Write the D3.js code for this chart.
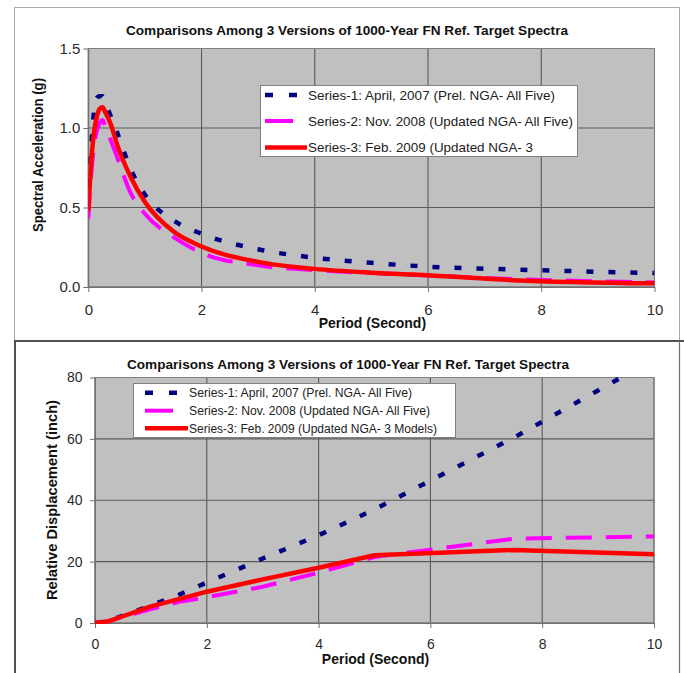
<!DOCTYPE html>
<html><head><meta charset="utf-8">
<script src="https://cdn.jsdelivr.net/npm/d3@7"></script>
<style>html,body{margin:0;padding:0;background:#fff;}svg{display:block;}</style>
</head><body>
<script>
// ---------- DATA ----------
const chartTitle = "Comparisons Among 3 Versions of 1000-Year FN Ref. Target Spectra";
const seriesNames = [
  "Series-1: April, 2007 (Prel. NGA- All Five)",
  "Series-2: Nov. 2008 (Updated NGA- All Five)",
  "Series-3: Feb. 2009 (Updated NGA- 3"
];
const seriesNamesBottom = [
  "Series-1: April, 2007 (Prel. NGA- All Five)",
  "Series-2: Nov. 2008 (Updated NGA- All Five)",
  "Series-3: Feb. 2009 (Updated NGA- 3 Models)"
];
// Top chart: spectral acceleration (g) vs period (s)
const periodsSa = [0, 0.05, 0.1, 0.15, 0.2, 0.25, 0.3, 0.4, 0.5, 0.75, 1, 1.5, 2, 3, 4, 5, 6, 7.5, 10];
const saSeries1 = [0.50, 0.86, 1.10, 1.19, 1.20, 1.20, 1.16, 1.07, 0.98, 0.74, 0.58, 0.42, 0.335, 0.237, 0.184, 0.152, 0.128, 0.11, 0.088];
const saSeries2 = [0.43, 0.70, 0.88, 0.98, 1.03, 1.05, 1.01, 0.92, 0.825, 0.59, 0.46, 0.315, 0.215, 0.136, 0.106, 0.088, 0.072, 0.05, 0.029];
const saSeries3 = [0.48, 0.78, 0.97, 1.07, 1.12, 1.13, 1.10, 1.02, 0.905, 0.69, 0.535, 0.35, 0.255, 0.158, 0.114, 0.09, 0.074, 0.043, 0.023];
// Bottom chart: relative displacement (inch) vs period (s)
const periodsSd = [0, 0.25, 0.5, 0.75, 1, 1.5, 2, 3, 4, 5, 7.5, 10];
const sdSeries1 = [0, 0.7, 2.4, 4.0, 5.7, 9.2, 13.2, 21.0, 28.6, 37.0, 60.5, 86.0];
const sdSeries2 = [0, 0.6, 2.0, 3.2, 4.5, 6.9, 8.4, 11.8, 16.4, 21.5, 27.5, 28.2];
const sdSeries3 = [0, 0.6, 2.2, 3.8, 5.4, 7.8, 10.2, 14.2, 18.0, 22.1, 23.8, 22.4];
const xTicks = [0, 2, 4, 6, 8, 10];
const yTicksSa = [0, 0.5, 1.0, 1.5];
const yTicksSd = [0, 20, 40, 60, 80];
const xLabel = "Period (Second)";
const yLabelSa = "Spectral Acceleration (g)";
const yLabelSd = "Relative Displacement (inch)";
const colors = ["#000080", "#FF00FF", "#FF0000"];

// ---------- DRAW ----------
const W = 684, H = 673;
const svg = d3.select("body").append("svg").attr("width", W).attr("height", H)
  .style("font-family", "'Liberation Sans', Arial, sans-serif");

// panel frames
svg.append("path").attr("d", "M14.5,340 V7.5 H679.5 V340").attr("fill", "none").attr("stroke", "#a8a8a8").attr("stroke-width", 1);
svg.append("path").attr("d", "M15,673 V341 H684").attr("fill", "none").attr("stroke", "#505050").attr("stroke-width", 2);
svg.append("line").attr("x1", 679.5).attr("x2", 679.5).attr("y1", 341).attr("y2", 673).attr("stroke", "#707070").attr("stroke-width", 1.2);

const styles = [
  {w: 4.5, dash: "7,15"},
  {w: 4, dash: "26,14"},
  {w: 4.5, dash: null}
];

function drawChart(cfg) {
  const g = svg.append("g");
  const x = d3.scaleLinear().domain([0, 10]).range([cfg.x0, cfg.x1]);
  const y = d3.scaleLinear().domain(cfg.yDomain).range([cfg.y1, cfg.y0]);
  const clipId = "clip" + cfg.id;
  svg.append("clipPath").attr("id", clipId).append("rect")
    .attr("x", cfg.x0).attr("y", cfg.y0 - 1).attr("width", cfg.x1 - cfg.x0).attr("height", cfg.y1 - cfg.y0 + 2);

  g.append("rect").attr("x", cfg.x0).attr("y", cfg.y0).attr("width", cfg.x1 - cfg.x0).attr("height", cfg.y1 - cfg.y0)
    .attr("fill", "#C0C0C0");
  // gridlines
  g.append("g").selectAll("line").data(cfg.yTicks).join("line")
    .attr("x1", cfg.x0).attr("x2", cfg.x1).attr("y1", d => y(d)).attr("y2", d => y(d))
    .attr("stroke", "#5a5a5a").attr("stroke-width", 1.1);
  g.append("g").selectAll("line").data(xTicks).join("line")
    .attr("y1", cfg.y0).attr("y2", cfg.y1).attr("x1", d => x(d)).attr("x2", d => x(d))
    .attr("stroke", "#5a5a5a").attr("stroke-width", 1.1);
  g.append("rect").attr("x", cfg.x0).attr("y", cfg.y0).attr("width", cfg.x1 - cfg.x0).attr("height", cfg.y1 - cfg.y0)
    .attr("fill", "none").attr("stroke", "#808080").attr("stroke-width", 1);

  // axes
  const ax = g.append("g").attr("transform", `translate(0,${cfg.y1})`)
    .call(d3.axisBottom(x).tickValues(xTicks).tickFormat(d3.format("d")).tickSizeInner(5).tickSizeOuter(0).tickPadding(cfg.xPad));
  const ay = g.append("g").attr("transform", `translate(${cfg.x0},0)`)
    .call(d3.axisLeft(y).tickValues(cfg.yTicks).tickFormat(cfg.yFormat).tickSizeInner(5).tickSizeOuter(0).tickPadding(cfg.yPad));
  [ax, ay].forEach(a => {
    a.select(".domain").attr("stroke", "#707070");
    a.selectAll(".tick line").attr("stroke", "#707070");
    a.selectAll("text").attr("font-size", cfg.tickFont).attr("fill", "#2a2a2a")
      .style("font-family", "'Liberation Sans', Arial, sans-serif");
  });

  // series
  const line = d3.line().x(d => x(d[0])).y(d => y(d[1])).curve(cfg.curve);
  const lg = g.append("g").attr("clip-path", `url(#${clipId})`);
  cfg.series.forEach((vals, i) => {
    const pts = cfg.periods.map((p, k) => [p, vals[k]]);
    lg.append("path").datum(pts).attr("d", line).attr("fill", "none")
      .attr("stroke", colors[i]).attr("stroke-width", styles[i].w)
      .attr("stroke-dasharray", styles[i].dash).attr("stroke-linejoin", "round");
  });

  // title and axis labels
  g.append("text").attr("x", cfg.titleX).attr("y", cfg.titleY).attr("text-anchor", "middle")
    .attr("font-size", 12).attr("font-weight", "bold").attr("fill", "#111")
    .attr("textLength", 442).attr("lengthAdjust", "spacingAndGlyphs").text(chartTitle);
  g.append("text").attr("x", (cfg.x0 + cfg.x1) / 2 + 1).attr("y", cfg.xLabelY).attr("text-anchor", "middle")
    .attr("font-size", 14).attr("font-weight", "bold").attr("fill", "#111").text(xLabel);
  g.append("text").attr("transform", `translate(${cfg.yLabelX},${cfg.yLabelCY}) rotate(-90)`)
    .attr("text-anchor", "middle").attr("dy", "0.35em")
    .attr("font-size", cfg.yLabelFont).attr("font-weight", "bold").attr("fill", "#111")
    .attr("textLength", cfg.yLabelLen).attr("lengthAdjust", "spacingAndGlyphs").text(cfg.yLabel);

  // legend
  const L = cfg.legend;
  const leg = g.append("g");
  leg.append("rect").attr("x", L.x).attr("y", L.y).attr("width", L.w).attr("height", L.h)
    .attr("fill", "#fff").attr("stroke", "#808080").attr("stroke-width", 1);
  cfg.names.forEach((name, i) => {
    const cy = L.rows[i];
    leg.append("line").attr("x1", L.lx0).attr("x2", L.lx1).attr("y1", cy).attr("y2", cy)
      .attr("stroke", colors[i]).attr("stroke-width", styles[i].w)
      .attr("stroke-dasharray", i === 0 ? "8,16" : (i === 1 ? "28,20" : null));
    leg.append("text").attr("x", L.tx).attr("y", cy).attr("dy", "0.35em")
      .attr("font-size", L.font).attr("fill", "#222")
      .attr("textLength", L.lens[i]).attr("lengthAdjust", "spacingAndGlyphs").text(name);
  });
}

drawChart({
  id: "top", x0: 88.3, x1: 654.5, y0: 48.5, y1: 287, yDomain: [0, 1.5], yTicks: yTicksSa,
  yFormat: d3.format(".1f"), xPad: 12, yPad: 3, tickFont: 15, curve: d3.curveMonotoneX,
  periods: periodsSa, series: [saSeries1, saSeries2, saSeries3],
  titleX: 347, titleY: 35, xLabelY: 328, yLabelX: 38, yLabelCY: 155, yLabel: yLabelSa, yLabelFont: 14, yLabelLen: 154,
  names: seriesNames,
  legend: {x: 260.5, y: 85.5, w: 317, h: 71, rows: [95, 121, 147.5], lx0: 265, lx1: 307, tx: 308, font: 13,
           lens: [247, 265, 225]}
});

drawChart({
  id: "bot", x0: 95, x1: 654, y0: 377.5, y1: 623, yDomain: [0, 80], yTicks: yTicksSd,
  yFormat: d3.format("d"), xPad: 11, yPad: 7.5, tickFont: 14, curve: d3.curveLinear,
  periods: periodsSd, series: [sdSeries1, sdSeries2, sdSeries3],
  titleX: 348, titleY: 369, xLabelY: 664, yLabelX: 52, yLabelCY: 500, yLabel: yLabelSd, yLabelFont: 14, yLabelLen: 200,
  names: seriesNamesBottom,
  legend: {x: 133.5, y: 383.5, w: 322, h: 54, rows: [392.7, 410.7, 428.3], lx0: 145, lx1: 188, tx: 189, font: 12,
           lens: [223, 241, 248]}
});
</script>
</body></html>
